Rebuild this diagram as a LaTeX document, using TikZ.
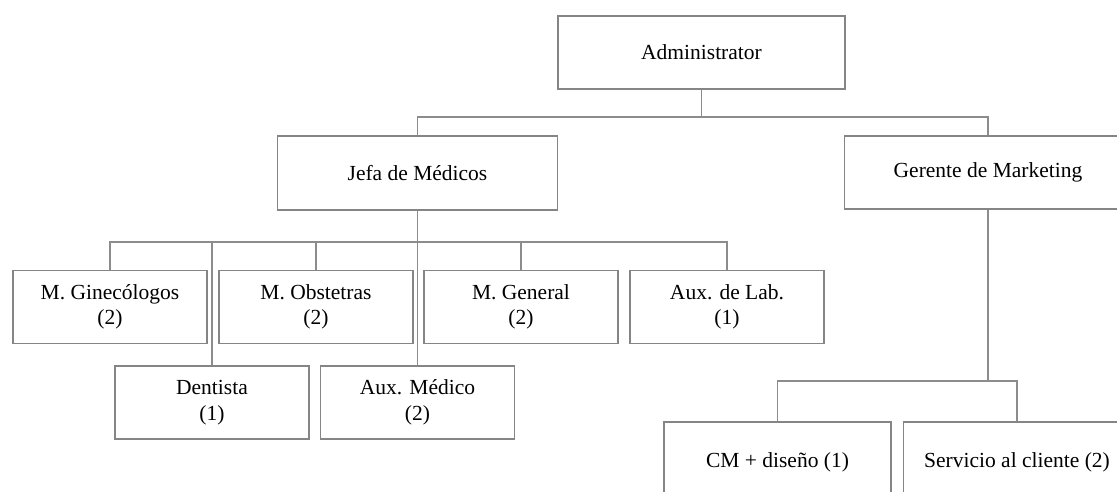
\documentclass[tikz,border=0pt]{standalone}
\usepackage{fontspec}
\setmainfont{Liberation Serif}
\begin{document}
\begin{tikzpicture}[x=1pt,y=-1pt,
  orgbox/.style={draw=black!48, line width=1.4pt, fill=white, align=center,
    inner sep=0pt, font=\fontsize{21.5}{25.5}\selectfont, text=black},
  wide/.style={orgbox, minimum width=287pt, minimum height=73pt},
  unit/.style={orgbox, minimum width=194pt, minimum height=73pt},
  team/.style={orgbox, minimum width=227pt, minimum height=80pt},
  link/.style={draw=black!45, line width=1.2pt}]
\useasboundingbox (0,0) rectangle (1117,491);

% top levels
\node[wide] (admin) at (701.5,52.5) {Administrator};
\node[orgbox, minimum width=280pt, minimum height=74pt] (jefa) at (417.5,173) {Jefa de Médicos};
\node[wide] (gerente) at (988,172.5) {Gerente de Marketing};

% medical staff
\node[unit] (gine) at (110,307) {M. Ginecólogos\\(2)};
\node[unit] (obst) at (316,307) {M. Obstetras\\(2)};
\node[unit] (general) at (521,307) {M. General\\(2)};
\node[unit] (auxlab) at (727,307) {Aux. de Lab.\\(1)};
\node[unit] (dentista) at (212,402.5) {Dentista\\(1)};
\node[unit] (auxmed) at (417.5,402.5) {Aux. Médico\\(2)};

% marketing staff
\node[team] (cm) at (777.5,462) {CM + diseño (1)};
\node[team] (serv) at (1017,462) {Servicio al cliente (2)};

% buses
\coordinate (ab) at (701.5,117);
\coordinate (jb) at (417.5,242);
\coordinate (gb) at (988,381);

% administrator to managers
\draw[link] (admin.south) -- (ab);
\draw[link] (jefa.north) |- (ab) -| (gerente.north);

% medical bus
\draw[link] (jefa.south) -- (auxmed.north);
\draw[link] (gine.north) |- (jb) -| (auxlab.north);
\draw[link] (obst.north) -- (obst.north |- jb);
\draw[link] (general.north) -- (general.north |- jb);
\draw[link] (dentista.north) -- (dentista.north |- jb);

% marketing bus
\draw[link] (gerente.south) -- (gb);
\draw[link] (cm.north) |- (gb) -| (serv.north);
\end{tikzpicture}
\end{document}
